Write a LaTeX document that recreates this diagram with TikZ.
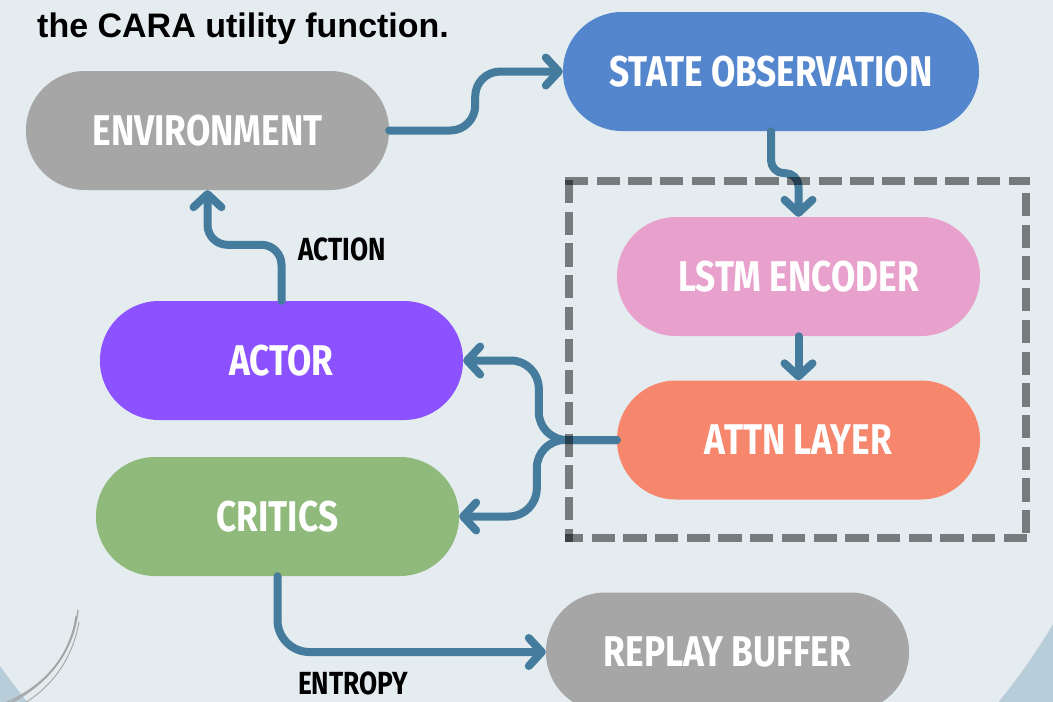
\documentclass[tikz,border=0pt]{standalone}
\usepackage{fontspec}
\setmainfont{Liberation Sans}
\newfontfamily\lblfont[FakeStretch=0.82]{Fira Sans}
\usetikzlibrary{arrows.meta}
\definecolor{bglight}{HTML}{E4ECF0}
\definecolor{bgblue}{HTML}{B7CDDA}
\definecolor{nodegray}{HTML}{A6A6A6}
\definecolor{stateblue}{HTML}{5486CE}
\definecolor{lstmpink}{HTML}{E8A1CC}
\definecolor{attnsalmon}{HTML}{F6866C}
\definecolor{actorpurple}{HTML}{8C52FF}
\definecolor{criticgreen}{HTML}{8FBA7C}
\definecolor{connblue}{HTML}{457B9D}
\definecolor{dashgray}{HTML}{858586}
\definecolor{decogray}{HTML}{A4A4A4}
\begin{document}
\begin{tikzpicture}[x=1pt,y=-1pt,
  pill/.style={rectangle, rounded corners=59pt, minimum width=363pt, minimum height=119pt,
    inner sep=0pt, text=white, font=\lblfont\bfseries\fontsize{43}{43}\selectfont},
  conn/.style={draw=connblue, line width=8pt, line cap=round, line join=round,
    -{Straight Barb[length=13pt,width=28pt,round]}},
  flowlabel/.style={inner sep=0pt, text=black, font=\lblfont\bfseries\fontsize{32}{32}\selectfont},
  dashside/.style={draw=dashgray, line width=8pt, line cap=butt, dash pattern=on 23.3pt off 8.4pt}]
\useasboundingbox (0,0) rectangle (1053,702);
\begin{scope}
\clip (0,0) rectangle (1053,702);
\fill[bgblue] (0,0) rectangle (1053,702);
\fill[bglight] (513,305) circle[radius=627pt];
% decorative strokes
\draw[decogray, line width=1.4pt] (78,610) .. controls (73,655) and (45,688) .. (0,708);
\draw[decogray, line width=1.1pt] (76,616) .. controls (70,658) and (42,690) .. (-3,706);
\draw[decogray, line width=0.9pt] (79,622) .. controls (72,662) and (48,694) .. (8,712);
% title
\node[anchor=base west, inner sep=0pt, font=\bfseries\fontsize{34}{34}\selectfont] (title) at (37,37) {the CARA utility function.};
% nodes
\node[pill, fill=nodegray] (env) at (207.5,130.5) {ENVIRONMENT};
\node[pill, fill=stateblue, minimum width=416pt] (state) at (771,71.5) {STATE OBSERVATION};
\node[pill, fill=lstmpink] (lstm) at (798.5,276.5) {LSTM ENCODER};
\node[pill, fill=attnsalmon] (attn) at (798.5,440) {ATTN LAYER};
\node[pill, fill=actorpurple] (actor) at (281.5,360.5) {ACTOR};
\node[pill, fill=criticgreen] (critics) at (277.5,516.5) {CRITICS};
\node[pill, fill=nodegray] (replay) at (727.5,652) {REPLAY BUFFER};
% labels
\node[flowlabel] (lact) at (342,249) {ACTION};
\node[flowlabel, anchor=base, text depth=0pt] (lent) at (353,694) {ENTROPY};
% connectors
\draw[conn, rounded corners=25pt] (env.east) -- ++(86,0) |- (state.west);
\draw[conn, rounded corners=13pt] (state.south) -- ++(0,42) -| (lstm.north);
\draw[conn] (lstm.south) -- (attn.north);
\draw[conn, rounded corners=28pt] (attn.west) -- ++(-78,0) |- (actor.east);
\draw[conn, rounded corners=28pt] (attn.west) -- ++(-80,0) |- (critics.east);
\draw[conn, rounded corners=20pt] (actor.north) -- ++(0,-56) -| (env.south);
\draw[conn, rounded corners=32pt] (critics.south) |- (replay.west);
% dashed group box
\begin{scope}[blend mode=multiply]
\draw[dashside] (565,181) -- (1030,181);
\draw[dashside] (1026,193) -- (1026,541.5);
\draw[dashside] (1027,537.5) -- (565,537.5);
\draw[dashside] (569,180) -- (569,541.5);
\end{scope}
\end{scope}
\end{tikzpicture}
\end{document}
